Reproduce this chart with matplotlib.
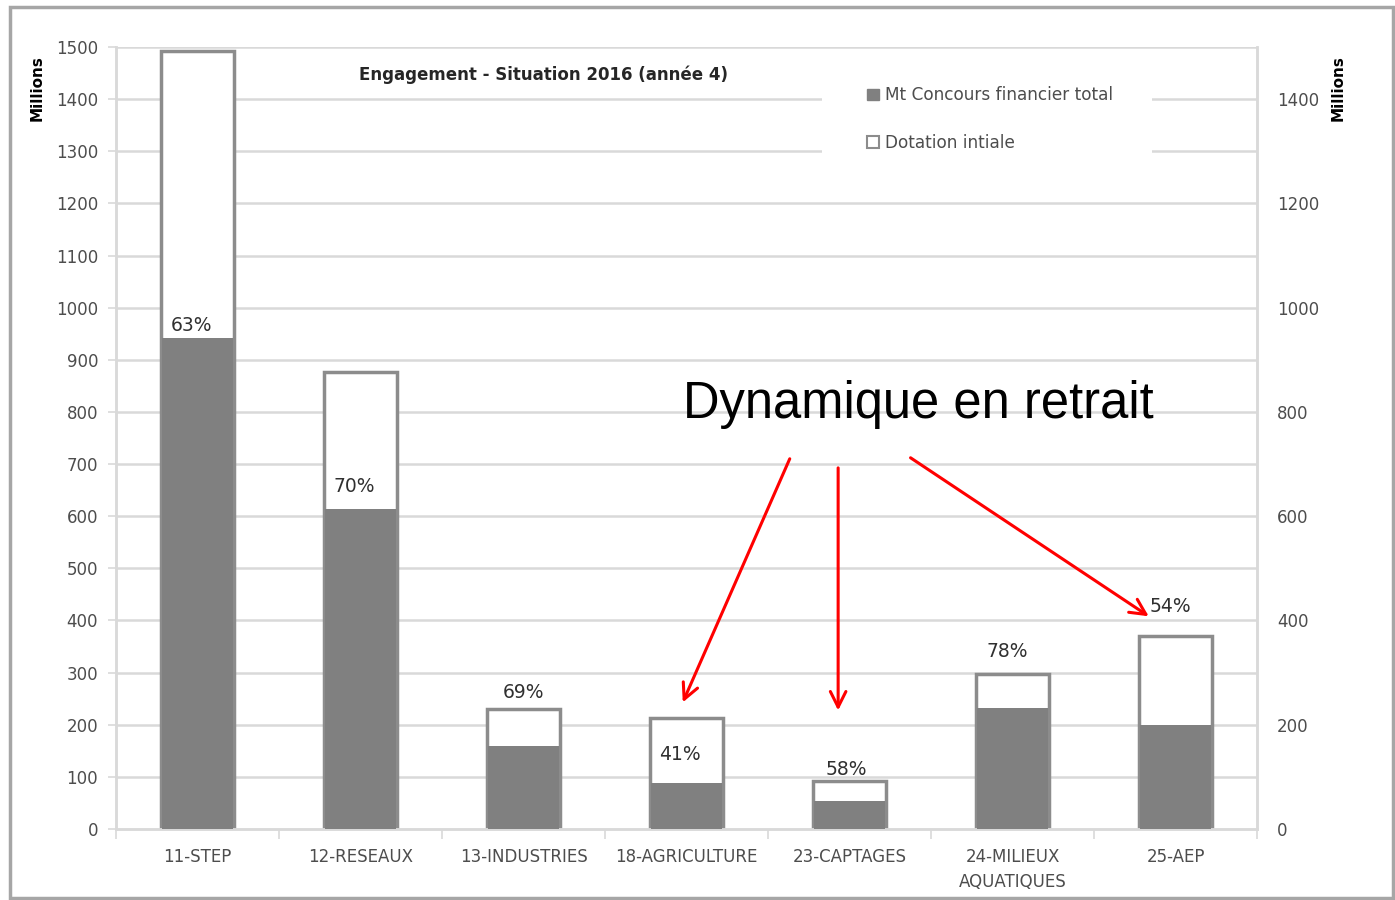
import numpy as np
import matplotlib
matplotlib.use('Agg')
import matplotlib.pyplot as plt
from matplotlib.patches import Rectangle

# data (millions)
categories = ['11-STEP', '12-RESEAUX', '13-INDUSTRIES', '18-AGRICULTURE',
              '23-CAPTAGES', '24-MILIEUX\nAQUATIQUES', '25-AEP']
dotation = [1492, 877, 230, 213, 92, 298, 370]
concours = [942, 614, 159, 88, 53, 233, 200]
pct_labels = ['63%', '70%', '69%', '41%', '58%', '78%', '54%']
# where each percentage label sits (data units)
label_y = [965, 656, 261, 142, 115, 340, 426]
label_dx = [-0.04, -0.04, 0.0, -0.04, -0.02, -0.03, -0.03]

plt.rcParams['font.family'] = 'DejaVu Sans'
tick_col = '#4d4d4d'
grid_col = '#d9d9d9'

fig = plt.figure(figsize=(13.95, 9), dpi=100)
ax = fig.add_axes([0.0832, 0.0789, 0.8179, 0.8689])
ax2 = ax.twinx()
ax.set_zorder(2)
ax.patch.set_visible(False)

x = np.arange(len(categories))
w = 0.45

# outline bars (dotation initiale) on the secondary axis
ax2.bar(x, dotation, width=w, color='white', edgecolor='#8c8c8c',
        linewidth=2.5, zorder=2)
ax2.set_ylim(0, 1500)
ax2.set_yticks(np.arange(0, 1401, 200))
ax2.tick_params(axis='y', colors=tick_col, labelsize=12, length=0, pad=14.5)
ax2.grid(False)
for v in np.arange(100, 1501, 100):
    ax2.axhline(v, color=grid_col, lw=1.8, zorder=0)

# grey bars (concours) in front
ax.bar(x, concours, width=w - 0.015, color='#808080', zorder=3)
ax.set_xlim(-0.5, len(categories) - 0.5)
ax.set_ylim(0, 1500)
ax.set_yticks(np.arange(0, 1501, 100))
ax.tick_params(axis='y', colors=tick_col, labelsize=12, length=6,
               width=1.2, pad=7)
ax.yaxis.set_tick_params(color=grid_col)
ax.set_xticks(x)
ax.set_xticklabels(categories, fontsize=12, color=tick_col,
                   linespacing=1.45, va='top')
ax.tick_params(axis='x', length=0, pad=14)
ax.set_xticks(np.arange(-0.5, len(categories), 1), minor=True)
ax.tick_params(axis='x', which='minor', length=7, width=1.2, color=grid_col)

for a in (ax, ax2):
    a.spines['top'].set_visible(False)
    for s in ('left', 'right', 'bottom'):
        a.spines[s].set_color(grid_col)
        a.spines[s].set_linewidth(1.8)

for xi, y, t, dx in zip(x, label_y, pct_labels, label_dx):
    ax.text(xi + dx, y, t, ha='center', va='center', fontsize=13.5,
            color='#303030', zorder=5)

ax.text(2.12, 1447, 'Engagement - Situation 2016 (année 4)', ha='center',
        va='center', fontsize=12, fontweight='bold', color='#262626',
        zorder=5)

h1 = Rectangle((0, 0), 1, 1, facecolor='#808080', edgecolor='#808080')
h2 = Rectangle((0, 0), 1, 1, facecolor='white', edgecolor='#8c8c8c', lw=1.5)
leg = ax.legend([h1, h2], ['Mt Concours financier total', 'Dotation intiale'],
                loc='upper left', bbox_to_anchor=(0.636, 0.982),
                frameon=True, framealpha=1, edgecolor='white',
                fancybox=False, handlelength=0.7, handleheight=0.7,
                handletextpad=0.35, labelspacing=1.75, borderpad=1.0,
                prop=dict(size=12.2))
for t in leg.get_texts():
    t.set_color('#4d4d4d')
leg.get_frame().set_linewidth(0)
leg.set_zorder(4)
# widen the white block behind the legend like the reference
fig.canvas.draw()
bb = leg.get_window_extent().transformed(fig.transFigure.inverted())
fig.patches.append(Rectangle((822 / 1395, bb.y0), (1152 - 822) / 1395,
                             bb.height, transform=fig.transFigure,
                             facecolor='white', edgecolor='none', zorder=1))

# annotation with red arrows
ax.text(4.42, 815, 'Dynamique en retrait', ha='center', va='center',
        fontsize=36.5, family='Liberation Sans', color='black', zorder=6)
arrows = [((3.64, 715), (2.97, 238)),
          ((3.93, 698), (3.93, 222)),
          ((4.36, 715), (5.85, 405))]
for start, end in arrows:
    ax.annotate('', xy=end, xytext=start, zorder=6,
                arrowprops=dict(arrowstyle='->', color='red', lw=2.2,
                                mutation_scale=28))

fig.text(37 / 1395, 1 - 88 / 900, 'Millions', rotation=90, ha='center',
         va='center', fontsize=11, fontweight='bold')
fig.text(1338 / 1395, 1 - 88 / 900, 'Millions', rotation=90, ha='center',
         va='center', fontsize=11, fontweight='bold')

# outer chart frame
fig.patches.append(Rectangle((10 / 1395, 2 / 900), 1383 / 1395, 891 / 900,
                             transform=fig.transFigure, facecolor='none',
                             edgecolor='#a6a6a6', lw=2.5))

fig.savefig('out.png', dpi=100)
